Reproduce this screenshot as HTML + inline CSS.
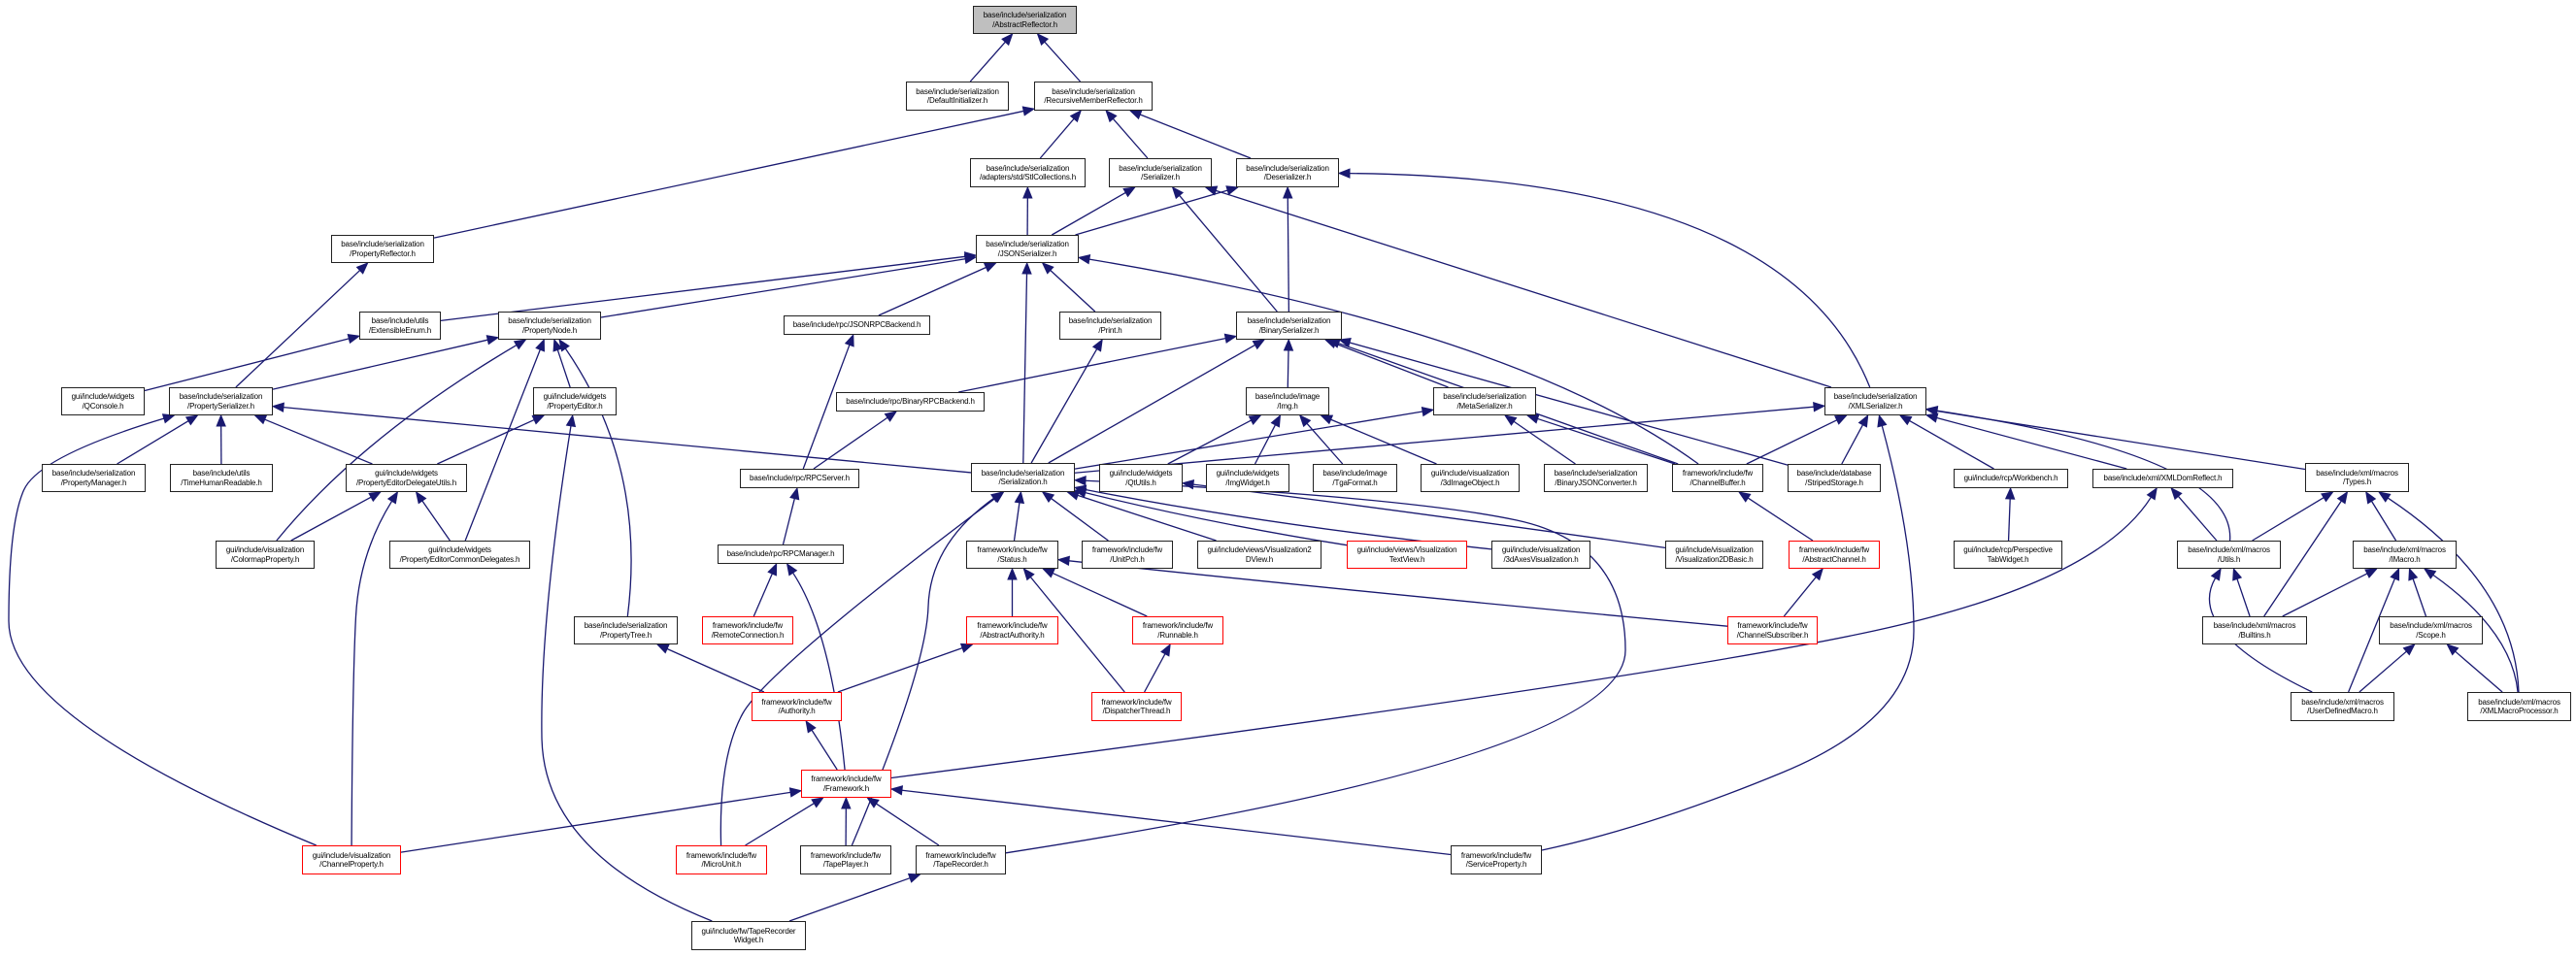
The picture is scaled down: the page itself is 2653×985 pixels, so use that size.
<!DOCTYPE html>
<html><head><meta charset="utf-8">
<style>
html,body{margin:0;padding:0;background:#fff;}
body{width:2653px;height:985px;position:relative;overflow:hidden;font-family:"Liberation Sans",sans-serif;}
.n{position:absolute;box-sizing:border-box;border:1.5px solid #222;background:#fff;font-size:8px;line-height:9.5px;text-align:center;color:#000;letter-spacing:-0.15px;display:flex;flex-direction:column;justify-content:center;white-space:nowrap;overflow:visible;}
.r{border-color:#f00;}
.g{background:#bfbfbf;}
svg{position:absolute;left:0;top:0;}
</style></head><body>
<svg id="s" width="2653" height="985"></svg>
<div class="n g" id="ar" style="left:1002px;top:6px;width:107px;height:29px">base/include/serialization<br>/AbstractReflector.h</div>
<div class="n" id="di" style="left:933px;top:84px;width:106px;height:30px">base/include/serialization<br>/DefaultInitializer.h</div>
<div class="n" id="rmr" style="left:1065px;top:84px;width:122px;height:30px">base/include/serialization<br>/RecursiveMemberReflector.h</div>
<div class="n" id="stl" style="left:999px;top:163px;width:119px;height:30px">base/include/serialization<br>/adapters/std/StlCollections.h</div>
<div class="n" id="ser" style="left:1142px;top:163px;width:106px;height:30px">base/include/serialization<br>/Serializer.h</div>
<div class="n" id="des" style="left:1273px;top:163px;width:106px;height:30px">base/include/serialization<br>/Deserializer.h</div>
<div class="n" id="pr" style="left:341px;top:242px;width:106px;height:29px">base/include/serialization<br>/PropertyReflector.h</div>
<div class="n" id="json" style="left:1005px;top:242px;width:106px;height:29px">base/include/serialization<br>/JSONSerializer.h</div>
<div class="n" id="ee" style="left:370px;top:321px;width:84px;height:29px">base/include/utils<br>/ExtensibleEnum.h</div>
<div class="n" id="pn" style="left:513px;top:321px;width:106px;height:29px">base/include/serialization<br>/PropertyNode.h</div>
<div class="n" id="jrpc" style="left:807px;top:325px;width:151px;height:20px">base/include/rpc/JSONRPCBackend.h</div>
<div class="n" id="print" style="left:1091px;top:321px;width:105px;height:29px">base/include/serialization<br>/Print.h</div>
<div class="n" id="bin" style="left:1273px;top:321px;width:109px;height:29px">base/include/serialization<br>/BinarySerializer.h</div>
<div class="n" id="qc" style="left:63px;top:399px;width:86px;height:29px">gui/include/widgets<br>/QConsole.h</div>
<div class="n" id="ps" style="left:174px;top:399px;width:107px;height:29px">base/include/serialization<br>/PropertySerializer.h</div>
<div class="n" id="pe" style="left:549px;top:399px;width:86px;height:29px">gui/include/widgets<br>/PropertyEditor.h</div>
<div class="n" id="brpc" style="left:861px;top:404px;width:153px;height:20px">base/include/rpc/BinaryRPCBackend.h</div>
<div class="n" id="img" style="left:1283px;top:399px;width:86px;height:29px">base/include/image<br>/Img.h</div>
<div class="n" id="meta" style="left:1476px;top:399px;width:106px;height:29px">base/include/serialization<br>/MetaSerializer.h</div>
<div class="n" id="xml" style="left:1879px;top:399px;width:105px;height:29px">base/include/serialization<br>/XMLSerializer.h</div>
<div class="n" id="pm" style="left:43px;top:478px;width:107px;height:29px">base/include/serialization<br>/PropertyManager.h</div>
<div class="n" id="thr" style="left:175px;top:478px;width:106px;height:29px">base/include/utils<br>/TimeHumanReadable.h</div>
<div class="n" id="pedu" style="left:356px;top:478px;width:125px;height:29px">gui/include/widgets<br>/PropertyEditorDelegateUtils.h</div>
<div class="n" id="rpcs" style="left:762px;top:483px;width:123px;height:20px">base/include/rpc/RPCServer.h</div>
<div class="n" id="sz" style="left:1000px;top:477px;width:107px;height:30px">base/include/serialization<br>/Serialization.h</div>
<div class="n" id="qtu" style="left:1132px;top:478px;width:86px;height:29px">gui/include/widgets<br>/QtUtils.h</div>
<div class="n" id="imgw" style="left:1242px;top:478px;width:86px;height:29px">gui/include/widgets<br>/ImgWidget.h</div>
<div class="n" id="tga" style="left:1352px;top:478px;width:87px;height:29px">base/include/image<br>/TgaFormat.h</div>
<div class="n" id="io3" style="left:1463px;top:478px;width:102px;height:29px">gui/include/visualization<br>/3dImageObject.h</div>
<div class="n" id="bjc" style="left:1590px;top:478px;width:107px;height:29px">base/include/serialization<br>/BinaryJSONConverter.h</div>
<div class="n" id="cb" style="left:1722px;top:478px;width:94px;height:29px">framework/include/fw<br>/ChannelBuffer.h</div>
<div class="n" id="ss" style="left:1841px;top:478px;width:96px;height:29px">base/include/database<br>/StripedStorage.h</div>
<div class="n" id="wb" style="left:2012px;top:483px;width:118px;height:20px">gui/include/rcp/Workbench.h</div>
<div class="n" id="xdr" style="left:2155px;top:483px;width:145px;height:20px">base/include/xml/XMLDomReflect.h</div>
<div class="n" id="types" style="left:2374px;top:477px;width:107px;height:30px">base/include/xml/macros<br>/Types.h</div>
<div class="n" id="cmp" style="left:222px;top:557px;width:102px;height:29px">gui/include/visualization<br>/ColormapProperty.h</div>
<div class="n" id="pecd" style="left:401px;top:557px;width:145px;height:29px">gui/include/widgets<br>/PropertyEditorCommonDelegates.h</div>
<div class="n" id="rpcm" style="left:739px;top:561px;width:130px;height:20px">base/include/rpc/RPCManager.h</div>
<div class="n" id="status" style="left:995px;top:557px;width:95px;height:29px">framework/include/fw<br>/Status.h</div>
<div class="n" id="unit" style="left:1114px;top:557px;width:94px;height:29px">framework/include/fw<br>/UnitPch.h</div>
<div class="n" id="v2d" style="left:1233px;top:557px;width:128px;height:29px">gui/include/views/Visualization2<br>DView.h</div>
<div class="n r" id="tv" style="left:1387px;top:557px;width:124px;height:29px">gui/include/views/Visualization<br>TextView.h</div>
<div class="n" id="axes" style="left:1536px;top:557px;width:102px;height:29px">gui/include/visualization<br>/3dAxesVisualization.h</div>
<div class="n" id="v2b" style="left:1715px;top:557px;width:101px;height:29px">gui/include/visualization<br>/Visualization2DBasic.h</div>
<div class="n r" id="ach" style="left:1842px;top:557px;width:94px;height:29px">framework/include/fw<br>/AbstractChannel.h</div>
<div class="n" id="ptw" style="left:2012px;top:557px;width:112px;height:29px">gui/include/rcp/Perspective<br>TabWidget.h</div>
<div class="n" id="xu" style="left:2242px;top:557px;width:107px;height:29px">base/include/xml/macros<br>/Utils.h</div>
<div class="n" id="macro" style="left:2423px;top:557px;width:107px;height:29px">base/include/xml/macros<br>/IMacro.h</div>
<div class="n" id="ptree" style="left:591px;top:635px;width:107px;height:29px">base/include/serialization<br>/PropertyTree.h</div>
<div class="n r" id="rc" style="left:723px;top:635px;width:94px;height:29px">framework/include/fw<br>/RemoteConnection.h</div>
<div class="n r" id="aa" style="left:995px;top:635px;width:95px;height:29px">framework/include/fw<br>/AbstractAuthority.h</div>
<div class="n r" id="run" style="left:1166px;top:635px;width:94px;height:29px">framework/include/fw<br>/Runnable.h</div>
<div class="n r" id="csub" style="left:1779px;top:635px;width:93px;height:29px">framework/include/fw<br>/ChannelSubscriber.h</div>
<div class="n" id="bi" style="left:2268px;top:635px;width:108px;height:29px">base/include/xml/macros<br>/Builtins.h</div>
<div class="n" id="scope" style="left:2450px;top:635px;width:107px;height:29px">base/include/xml/macros<br>/Scope.h</div>
<div class="n r" id="auth" style="left:774px;top:713px;width:93px;height:30px">framework/include/fw<br>/Authority.h</div>
<div class="n r" id="dt" style="left:1124px;top:713px;width:93px;height:30px">framework/include/fw<br>/DispatcherThread.h</div>
<div class="n" id="udm" style="left:2359px;top:713px;width:107px;height:30px">base/include/xml/macros<br>/UserDefinedMacro.h</div>
<div class="n" id="xmp" style="left:2541px;top:713px;width:107px;height:30px">base/include/xml/macros<br>/XMLMacroProcessor.h</div>
<div class="n r" id="fw" style="left:825px;top:793px;width:93px;height:29px">framework/include/fw<br>/Framework.h</div>
<div class="n r" id="cp" style="left:311px;top:871px;width:102px;height:30px">gui/include/visualization<br>/ChannelProperty.h</div>
<div class="n r" id="mu" style="left:696px;top:871px;width:94px;height:30px">framework/include/fw<br>/MicroUnit.h</div>
<div class="n" id="tp" style="left:824px;top:871px;width:94px;height:30px">framework/include/fw<br>/TapePlayer.h</div>
<div class="n" id="tr" style="left:943px;top:871px;width:93px;height:30px">framework/include/fw<br>/TapeRecorder.h</div>
<div class="n" id="sp" style="left:1494px;top:871px;width:94px;height:30px">framework/include/fw<br>/ServiceProperty.h</div>
<div class="n" id="trw" style="left:712px;top:949px;width:118px;height:30px">gui/include/fw/TapeRecorder<br>Widget.h</div>
<script>
var E=[
['di','ar'],['rmr','ar'],['pr','rmr'],['stl','rmr'],['ser','rmr'],['des','rmr'],
['json','stl'],['json','ser'],['json','des'],['bin','ser'],['bin','des'],
['xml','ser',[[1575,300]]],['xml','des',[[1840,183]]],
['ps','pr'],['ee','json'],['pn','json'],['jrpc','json'],['print','json'],['sz','json'],
['cb','json',[[1560,340]]],
['qc','ee'],['ps','pn'],['cmp','pn',[[372,450]]],['pe','pn'],['pecd','pn'],['ptree','pn',[[666,480]]],
['rpcs','jrpc'],['rpcs','brpc'],['sz','print'],
['brpc','bin'],['img','bin'],['meta','bin'],['sz','bin'],['cb','bin'],['ss','bin'],
['sz','meta'],['cb','meta'],['bjc','meta'],
['sz','xml'],['cb','xml'],['ss','xml'],['wb','xml'],['xdr','xml'],['types','xml'],['xu','xml',[[2303,470]]],
['sp','xml',[[1700,852],[1971,740],[1971,560]]],
['pm','ps'],['thr','ps'],['pedu','ps'],['cp','ps',[[9,740],[9,540],[40,470]]],['sz','ps'],
['pedu','pe'],['trw','pe',[[560,880],[556,640]]],
['cmp','pedu'],['pecd','pedu'],['cp','pedu',[[363,700],[370,570]]],
['qtu','img'],['imgw','img'],['tga','img'],['io3','img'],
['unit','sz'],['status','sz'],['v2d','sz'],['tv','sz',[[1250,540]]],['axes','sz',[[1300,540]]],['v2b','qtu',[[1400,520]]],
['mu','sz',[[740,780],[790,690]]],['tp','sz',[[954,690],[958,560]]],['tr','sz',[[1674,780],[1674,560],[1450,512]]],
['aa','status'],['run','status'],['dt','status'],['csub','status',[[1400,610]]],['dt','run'],
['ach','cb'],['csub','ach'],['rpcm','rpcs'],['rc','rpcm'],['fw','rpcm',[[856,650]]],
['auth','ptree'],['auth','aa'],['fw','auth'],
['cp','fw'],['mu','fw'],['tp','fw'],['tr','fw'],['sp','fw'],['fw','xdr',[[1700,700],[2160,600]]],
['trw','tr'],['ptw','wb'],
['xu','xdr'],['xu','types'],['bi','types'],['macro','types'],['xmp','types',[[2590,600]]],
['bi','xu'],['udm','xu',[[2250,650]]],
['bi','macro'],['scope','macro'],['udm','macro'],['xmp','macro',[[2587,650]]],
['udm','scope'],['xmp','scope']
];
function box(id){var e=document.getElementById(id);return{x:e.offsetLeft,y:e.offsetTop,w:e.offsetWidth,h:e.offsetHeight};}
function clip(b,px,py){var cx=b.x+b.w/2,cy=b.y+b.h/2,dx=px-cx,dy=py-cy;if(!dx&&!dy)return[cx,cy];
var t=Math.min(dx?Math.abs(b.w/2/dx):1e9,dy?Math.abs(b.h/2/dy):1e9);return[cx+dx*t,cy+dy*t];}
var s='';
E.forEach(function(e){var a=box(e[0]),b=box(e[1]),w=e[2]||[];
var bc=[b.x+b.w/2,b.y+b.h/2],ac=[a.x+a.w/2,a.y+a.h/2];
var f=w.length?w[0]:bc,l=w.length?w[w.length-1]:ac;
var p0=clip(a,f[0],f[1]),p1=clip(b,l[0],l[1]);
var pts=[p0].concat(w).concat([p1]);
var prev=pts[pts.length-2],dx=p1[0]-prev[0],dy=p1[1]-prev[1],L=Math.sqrt(dx*dx+dy*dy)||1;dx/=L;dy/=L;
var bx=p1[0]-dx*11,by=p1[1]-dy*11;
var q=pts.slice(0,-1).concat([[bx,by]]);
var d='M'+q[0][0]+','+q[0][1];
if(q.length>2){for(var i=1;i<q.length-1;i++){var m=[(q[i][0]+q[i+1][0])/2,(q[i][1]+q[i+1][1])/2];if(i==q.length-2)m=q[i+1];d+=' Q'+q[i][0]+','+q[i][1]+' '+m[0]+','+m[1];}}
else d+=' L'+q[1][0]+','+q[1][1];
s+='<path d="'+d+'" fill="none" stroke="#191970" stroke-width="1.3"/>';
s+='<polygon points="'+p1[0]+','+p1[1]+' '+(bx-dy*4.5)+','+(by+dx*4.5)+' '+(bx+dy*4.5)+','+(by-dx*4.5)+'" fill="#191970" stroke="#191970"/>';
});
document.getElementById('s').innerHTML=s;
</script>
</body></html>
